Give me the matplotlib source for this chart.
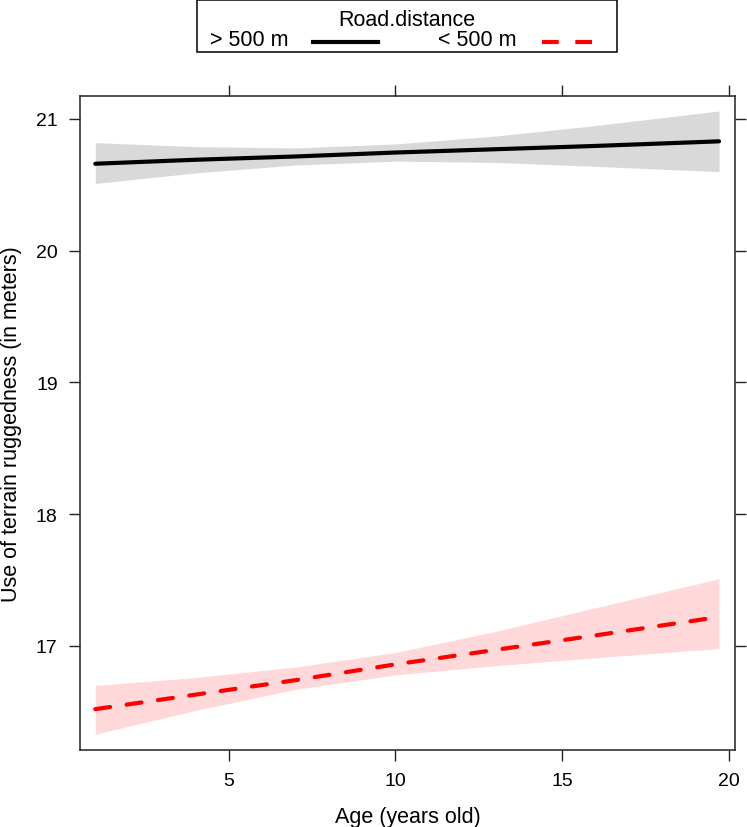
#!/usr/bin/env python3
"""Effects plot: terrain ruggedness use vs age, by road distance."""

import matplotlib.pyplot as plt
from matplotlib.lines import Line2D
from matplotlib.patches import Rectangle

plt.rcParams['font.family'] = ['Liberation Sans', 'DejaVu Sans']

# Data
age = [1, 4, 7, 10, 13, 16, 19.7]

far_fit = [20.66, 20.69, 20.715, 20.745, 20.77, 20.795, 20.83]
far_lo = [20.51, 20.59, 20.65, 20.68, 20.67, 20.64, 20.60]
far_hi = [20.82, 20.79, 20.78, 20.81, 20.87, 20.95, 21.06]

near_fit = [16.52, 16.63, 16.74, 16.86, 16.97, 17.08, 17.22]
near_lo = [16.33, 16.51, 16.67, 16.78, 16.85, 16.91, 16.98]
near_hi = [16.70, 16.76, 16.84, 16.95, 17.11, 17.29, 17.51]

groups = ['> 500 m', '< 500 m']
xticks = [5, 10, 15, 20]
yticks = [17, 18, 19, 20, 21]

W, H = 747, 828
fig = plt.figure(figsize=(W / 100, H / 100), dpi=100)
ax = fig.add_axes([0.107, 0.093, 0.877, 0.790])

ax.fill_between(age, far_lo, far_hi, color='#d9d9d9', lw=0)
ax.fill_between(age, near_lo, near_hi, color='#ffd9d9', lw=0)
ax.plot(age, far_fit, color='black', lw=3, solid_capstyle='round')
ax.plot(age, near_fit, color='#ff0000', lw=3, dashes=(3.6, 4.0),
        dash_capstyle='round')

ax.set_xlim(0.54, 20.18)
ax.set_ylim(16.21, 21.175)
ax.set_xticks(xticks)
ax.set_yticks(yticks)
ax.tick_params(direction='out', length=8, width=1, colors='#222222',
               labelsize=14, top=True, right=True, pad=8,
               labelcolor='black')
for s in ax.spines.values():
    s.set_linewidth(1.1)
    s.set_color('#222222')

ax.set_xlabel('Age (years old)', fontsize=15.5, labelpad=12)
ax.set_ylabel('Use of terrain ruggedness (in meters)', fontsize=15.5,
              labelpad=10)

# lattice-style key on top, laid out in pixel coords
def px(x, y):
    return x / W, 1 - y / H

tr = fig.transFigure
x0, y0 = px(197, 53)
x1, y1 = px(617, 1)
fig.patches.append(Rectangle((x0, y0), x1 - x0, y1 - y0, transform=tr,
                             fill=False, edgecolor='black', lw=1.1))
fig.text(*px(407, 20), 'Road.distance', ha='center', va='center',
         fontsize=15.5)
fig.text(*px(210, 41), groups[0], ha='left', va='center', fontsize=15.5)
fig.text(*px(438, 41), groups[1], ha='left', va='center', fontsize=15.5)
(a, yy), (b, _) = px(313, 43), px(378, 43)
fig.add_artist(Line2D([a, b], [yy, yy], transform=tr, color='black', lw=3))
(a, yy), (b, _) = px(542, 43), px(592, 43)
fig.add_artist(Line2D([a, b], [yy, yy], transform=tr, color='#ff0000', lw=3,
                      dashes=(4, 4)))

plt.savefig('out.png', dpi=100)
